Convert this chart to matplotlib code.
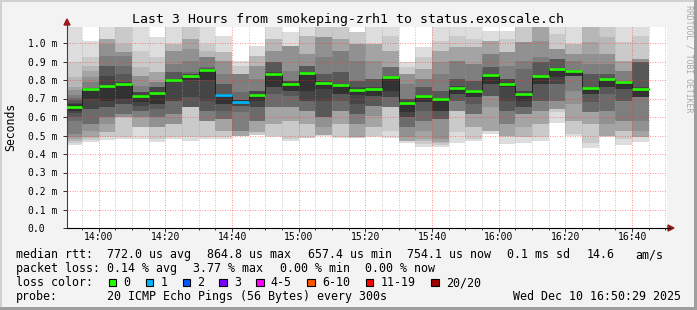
import numpy as np
import matplotlib.pyplot as plt
from matplotlib.patches import Rectangle, Polygon
from matplotlib.transforms import Affine2D, blended_transform_factory, offset_copy

plt.rcParams['font.family'] = 'DejaVu Sans Mono'

# 5-minute slots (start time of each)
slots = ['13:50', '13:55', '14:00', '14:05', '14:10', '14:15', '14:20', '14:25', '14:30',
         '14:35', '14:40', '14:45', '14:50', '14:55', '15:00', '15:05', '15:10', '15:15',
         '15:20', '15:25', '15:30', '15:35', '15:40', '15:45', '15:50', '15:55', '16:00',
         '16:05', '16:10', '16:15', '16:20', '16:25', '16:30', '16:35', '16:40']

# median rtt per slot, ms
median_ms = [0.656, 0.753, 0.769, 0.778, 0.715, 0.731, 0.802, 0.822, 0.856, 0.721,
             0.683, 0.721, 0.834, 0.778, 0.840, 0.786, 0.775, 0.748, 0.753, 0.818,
             0.677, 0.715, 0.699, 0.758, 0.742, 0.829, 0.778, 0.724, 0.822, 0.861,
             0.850, 0.758, 0.807, 0.789, 0.753]

# lost pings per slot (of 20)
loss = [0, 0, 0, 0, 0, 0, 0, 0, 0, 1, 1, 0, 0, 0, 0, 0, 0, 0, 0, 0, 0, 0, 0, 0, 0,
        0, 0, 0, 0, 0, 0, 0, 0, 0, 0]

# the 20 sorted ping times of each slot, ms
pings = [
    [0.45, 0.46, 0.47, 0.48, 0.49, 0.51, 0.58, 0.60, 0.62, 0.635, 0.668, 0.678, 0.69, 0.705, 0.72, 0.745, 0.76, 0.814, 0.895, 1.12],
    [0.467, 0.475, 0.485, 0.49, 0.526, 0.562, 0.562, 0.643, 0.643, 0.70, 0.755, 0.757, 0.757, 0.757, 0.787, 0.814, 0.850, 0.877, 0.923, 1.013],
    [0.476, 0.49, 0.517, 0.517, 0.562, 0.598, 0.598, 0.652, 0.652, 0.688, 0.772, 0.823, 0.877, 0.877, 0.932, 0.995, 1.022, 1.022, 1.022, 1.1],
    [0.481, 0.49, 0.598, 0.598, 0.598, 0.616, 0.616, 0.670, 0.670, 0.697, 0.782, 0.787, 0.832, 0.877, 0.93, 0.95, 0.95, 0.995, 1.1, 1.1],
    [0.481, 0.544, 0.544, 0.544, 0.598, 0.598, 0.634, 0.634, 0.661, 0.68, 0.718, 0.733, 0.733, 0.733, 0.769, 0.823, 0.823, 0.868, 0.959, 1.1],
    [0.467, 0.481, 0.544, 0.544, 0.544, 0.598, 0.598, 0.643, 0.67, 0.67, 0.735, 0.76, 0.76, 0.76, 0.787, 0.787, 0.841, 0.841, 0.923, 1.034],
    [0.479, 0.49, 0.562, 0.562, 0.562, 0.616, 0.616, 0.688, 0.688, 0.79, 0.804, 0.805, 0.841, 0.841, 0.886, 0.959, 0.959, 0.995, 0.995, 1.1],
    [0.472, 0.49, 0.652, 0.652, 0.652, 0.652, 0.652, 0.652, 0.706, 0.80, 0.824, 0.83, 0.835, 0.841, 0.905, 0.968, 1.022, 1.022, 1.1, 1.1],
    [0.479, 0.49, 0.58, 0.58, 0.58, 0.58, 0.634, 0.634, 0.688, 0.80, 0.858, 0.862, 0.865, 0.868, 0.923, 0.923, 0.923, 0.959, 0.995, 1.1],
    [0.479, 0.49, 0.526, 0.526, 0.589, 0.589, 0.589, 0.634, 0.67, 0.67, 0.722, 0.724, 0.778, 0.778, 0.832, 0.905, 0.905, 0.95, 0.95, 1.04],
    [0.50, 0.50, 0.50, 0.50, 0.526, 0.526, 0.625, 0.661, 0.661, 0.675, 0.69, 0.69, 0.69, 0.733, 0.832, 0.832, 0.832, 0.832, 0.877, 0.905],
    [0.503, 0.505, 0.517, 0.517, 0.58, 0.58, 0.58, 0.652, 0.652, 0.688, 0.725, 0.742, 0.742, 0.742, 0.805, 0.877, 0.877, 0.932, 0.932, 0.986],
    [0.49, 0.495, 0.562, 0.562, 0.652, 0.652, 0.652, 0.724, 0.76, 0.76, 0.837, 0.841, 0.895, 0.895, 0.895, 0.959, 0.959, 1.022, 1.022, 1.1],
    [0.472, 0.481, 0.58, 0.58, 0.652, 0.652, 0.652, 0.715, 0.742, 0.742, 0.78, 0.796, 0.796, 0.796, 0.85, 0.986, 0.986, 0.986, 0.986, 1.058],
    [0.485, 0.487, 0.562, 0.562, 0.634, 0.634, 0.634, 0.688, 0.688, 0.742, 0.843, 0.845, 0.877, 0.877, 0.877, 0.941, 0.941, 1.04, 1.04, 1.1],
    [0.497, 0.505, 0.505, 0.505, 0.544, 0.598, 0.598, 0.598, 0.688, 0.751, 0.789, 0.796, 0.832, 0.832, 0.923, 1.031, 1.031, 1.031, 1.1, 1.1],
    [0.488, 0.49, 0.562, 0.562, 0.634, 0.634, 0.634, 0.688, 0.724, 0.724, 0.777, 0.78, 0.841, 0.841, 0.959, 0.959, 1.022, 1.022, 1.1, 1.1],
    [0.485, 0.487, 0.49, 0.49, 0.562, 0.562, 0.616, 0.616, 0.67, 0.72, 0.75, 0.76, 0.796, 0.796, 0.905, 0.995, 0.995, 0.995, 1.058, 1.058],
    [0.49, 0.495, 0.544, 0.544, 0.607, 0.661, 0.661, 0.661, 0.715, 0.715, 0.758, 0.76, 0.805, 0.805, 0.805, 0.905, 0.995, 0.995, 0.995, 1.1],
    [0.485, 0.526, 0.652, 0.652, 0.652, 0.652, 0.652, 0.706, 0.706, 0.742, 0.821, 0.823, 0.823, 0.868, 0.868, 0.868, 0.959, 0.959, 1.04, 1.1],
    [0.461, 0.47, 0.47, 0.47, 0.49, 0.544, 0.544, 0.598, 0.598, 0.625, 0.68, 0.697, 0.697, 0.697, 0.778, 0.832, 0.832, 0.832, 0.868, 0.895],
    [0.44, 0.455, 0.47, 0.481, 0.526, 0.58, 0.58, 0.634, 0.679, 0.679, 0.717, 0.72, 0.76, 0.76, 0.805, 0.805, 0.859, 0.859, 0.923, 0.977],
    [0.44, 0.45, 0.46, 0.465, 0.481, 0.589, 0.589, 0.589, 0.634, 0.634, 0.70, 0.703, 0.742, 0.742, 0.832, 0.895, 0.959, 0.959, 1.013, 1.1],
    [0.461, 0.517, 0.634, 0.634, 0.634, 0.634, 0.688, 0.688, 0.724, 0.724, 0.762, 0.765, 0.805, 0.805, 0.905, 0.905, 0.977, 0.977, 1.04, 1.1],
    [0.47, 0.48, 0.544, 0.544, 0.616, 0.616, 0.616, 0.67, 0.706, 0.706, 0.745, 0.748, 0.796, 0.796, 0.886, 0.886, 0.977, 0.977, 1.022, 1.1],
    [0.51, 0.526, 0.526, 0.526, 0.652, 0.715, 0.715, 0.715, 0.778, 0.778, 0.832, 0.835, 0.868, 0.868, 0.941, 0.941, 1.013, 1.013, 1.013, 1.067],
    [0.454, 0.49, 0.50, 0.50, 0.562, 0.562, 0.634, 0.634, 0.688, 0.76, 0.78, 0.805, 0.805, 0.805, 0.877, 0.95, 0.95, 0.95, 1.022, 1.067],
    [0.461, 0.49, 0.49, 0.544, 0.616, 0.616, 0.616, 0.652, 0.652, 0.688, 0.726, 0.74, 0.742, 0.859, 0.905, 1.004, 1.004, 1.004, 1.1, 1.1],
    [0.47, 0.49, 0.562, 0.562, 0.634, 0.634, 0.688, 0.688, 0.778, 0.778, 0.825, 0.828, 0.895, 0.895, 0.923, 1.013, 1.1, 1.1, 1.1, 1.1],
    [0.566, 0.625, 0.643, 0.643, 0.643, 0.688, 0.688, 0.778, 0.778, 0.814, 0.863, 0.865, 0.914, 0.914, 0.914, 0.968, 0.968, 0.968, 1.049, 1.1],
    [0.50, 0.51, 0.58, 0.58, 0.67, 0.742, 0.823, 0.823, 0.823, 0.823, 0.851, 0.852, 0.852, 0.852, 0.905, 0.941, 0.941, 0.995, 0.995, 1.1],
    [0.43, 0.46, 0.562, 0.562, 0.625, 0.625, 0.625, 0.679, 0.724, 0.724, 0.76, 0.762, 0.832, 0.832, 0.886, 0.941, 1.004, 1.1, 1.1, 1.1],
    [0.49, 0.50, 0.50, 0.50, 0.562, 0.634, 0.634, 0.724, 0.76, 0.76, 0.808, 0.81, 0.832, 0.832, 0.886, 0.941, 0.941, 1.031, 1.1, 1.1],
    [0.45, 0.48, 0.526, 0.526, 0.58, 0.58, 0.688, 0.688, 0.751, 0.751, 0.79, 0.796, 0.796, 0.796, 0.85, 0.85, 0.905, 0.905, 1.004, 1.1],
    [0.467, 0.49, 0.49, 0.49, 0.526, 0.58, 0.706, 0.706, 0.706, 0.706, 0.758, 0.76, 0.895, 0.895, 0.895, 0.914, 0.914, 0.914, 1.04, 1.1],
]

xtick_labels = ['14:00', '14:20', '14:40', '15:00', '15:20', '15:40', '16:00', '16:20', '16:40']
ytick_labels = ['0.0', '0.1 m', '0.2 m', '0.3 m', '0.4 m', '0.5 m', '0.6 m', '0.7 m', '0.8 m', '0.9 m', '1.0 m']
ytick_values = [0.0, 0.1, 0.2, 0.3, 0.4, 0.5, 0.6, 0.7, 0.8, 0.9, 1.0]

loss_names = ['0', '1', '2', '3', '4-5', '6-10', '11-19', '20/20']
loss_colors = ['#26ff00', '#00b8ff', '#0059ff', '#7e00ff', '#ff00ff', '#ff5500', '#ff0000', '#a10000']


def minutes(hhmm):
    h, m = hhmm.split(':')
    return int(h) * 60 + int(m)


start = np.array([minutes(s) for s in slots], dtype=float)
P = np.array(pings)
med = np.array(median_ms)

W, H = 697, 310
fig = plt.figure(figsize=(W / 100, H / 100), dpi=100, facecolor='#f3f3f3')
# pixel coordinates, origin top-left
px = Affine2D().scale(1 / W, -1 / H).translate(0, 1) + fig.transFigure

ax = fig.add_axes([67 / W, 82 / H, 600 / W, 201 / H])
ax.set_facecolor('white')
x0 = minutes('13:50') + 29 / 60
ax.set_xlim(x0, x0 + 180)
ax.set_ylim(0, 201 / 185)

# smoke: band k spans ping k .. ping 21-k, darker towards the middle
for k in range(10):
    g = int(190 / 10 * (9 - k)) + 50
    col = '#%02x%02x%02x' % (g, g, g)
    ax.bar(start, P[:, 19 - k] - P[:, k], bottom=P[:, k], width=5, align='edge',
           color=col, linewidth=0, zorder=1)

# median line
xs = np.append(start, start[-1] + 5)
ax.step(xs, np.append(med, med[-1]), where='post', color='#202020', lw=0.7, zorder=3)
lc = [loss_colors[1] if l == 1 else loss_colors[0] for l in loss]
ax.hlines(med, start, start + 5, colors=lc, lw=1.9, zorder=4)

# grid (semi-transparent, drawn over the smoke like rrdtool)
ax.set_xticks([minutes(t) for t in xtick_labels])
ax.set_xticks(np.arange(835, 1011, 5), minor=True)
ax.set_yticks(ytick_values)
ax.set_axisbelow(False)
ax.grid(which='minor', axis='x', color='#a0a0a0', alpha=0.55, lw=0.72, ls=(0, (1, 1.5)))
ax.grid(which='major', color='#ff3030', alpha=0.5, lw=0.72, ls=(0, (1, 1.5)))
ax.tick_params(which='both', labelbottom=False, labelleft=False, direction='out',
               color='#303030', width=0.7)
ax.tick_params(which='major', length=3)
ax.tick_params(which='minor', length=1.5)
ax.tick_params(axis='y', which='minor', length=0)
for s in ['top', 'right']:
    ax.spines[s].set_visible(False)
ax.spines['left'].set_color('#404040')
ax.spines['bottom'].set_color('black')
ax.spines['left'].set_linewidth(0.8)
ax.spines['bottom'].set_linewidth(0.8)

# axis extensions and arrows
fig.add_artist(plt.Line2D([67, 67], [27, 24], color='#404040', lw=0.8, transform=px))
fig.add_artist(plt.Line2D([667, 670], [228, 228], color='black', lw=0.8, transform=px))
fig.add_artist(Polygon([(64, 25), (70, 25), (67, 19)], closed=True, color='#9a1c1c', transform=px))
fig.add_artist(Polygon([(668, 225), (668, 231), (674, 228)], closed=True, color='#9a1c1c', transform=px))

# tick labels
ytr = offset_copy(blended_transform_factory(px, ax.transData), fig=fig, y=-4, units='dots')
for v, t in zip(ytick_values, ytick_labels):
    fig.text(27.5, v, t, transform=ytr, fontsize=7, ha='left', va='baseline')
xtr = blended_transform_factory(ax.transData, px)
for t in xtick_labels:
    fig.text(minutes(t), 240.5, t, transform=xtr, fontsize=7, ha='center', va='baseline')

# titles
fig.text(348.5, 23.3, 'Last 3 Hours from smokeping-zrh1 to status.exoscale.ch',
         transform=px, fontsize=9.5, ha='center', va='baseline')
fig.text(11, 127, 'Seconds', transform=px, fontsize=8.3, rotation=90, ha='center', va='center')
fig.text(688.5, 5, 'RRDTOOL / TOBI OETIKER', transform=px, fontsize=5.9, rotation=270,
         ha='center', va='top', color='#a8a8a8')

# legend
fs = 8.35
rows = [
    (258.3, [(16, 'median rtt:'), (107.3, '772.0 us avg'), (207.3, '864.8 us max'),
             (307.7, '657.4 us min'), (407.3, '754.1 us now'), (507.3, '0.1 ms sd'),
             (586.7, '14.6'), (635, 'am/s')]),
    (272.3, [(16, 'packet loss:'), (107.3, '0.14 % avg'), (193.3, '3.77 % max'),
             (280, '0.00 % min'), (365, '0.00 % now')]),
    (286.3, [(16, 'loss color:')]),
    (300.0, [(16, 'probe:'), (107.3, '20 ICMP Echo Pings (56 Bytes) every 300s'),
             (512.7, 'Wed Dec 10 16:50:29 2025')]),
]
for y, items in rows:
    for x, t in items:
        fig.text(x, y, t, transform=px, fontsize=fs, ha='left', va='baseline')

box_x = [108.7, 145.7, 182.7, 219.3, 256, 307.3, 365.7, 431]
for bx, name, col in zip(box_x, loss_names, loss_colors):
    fig.add_artist(Rectangle((bx, 278.5), 7.5, 7.5, facecolor=col, edgecolor='black',
                             lw=0.8, transform=px))
    fig.text(bx + 14.7, 286.3, name, transform=px, fontsize=fs, ha='left', va='baseline')

# frame shading
fig.add_artist(Rectangle((0, 0), W, 2, color='#d0d0d0', transform=px, lw=0))
fig.add_artist(Rectangle((0, 0), 2, H, color='#d0d0d0', transform=px, lw=0))
fig.add_artist(Rectangle((0, H - 3), W, 3, color='#9e9e9e', transform=px, lw=0))
fig.add_artist(Rectangle((W - 3, 0), 3, H, color='#9e9e9e', transform=px, lw=0))

fig.savefig('out.png', dpi=100, facecolor=fig.get_facecolor())
